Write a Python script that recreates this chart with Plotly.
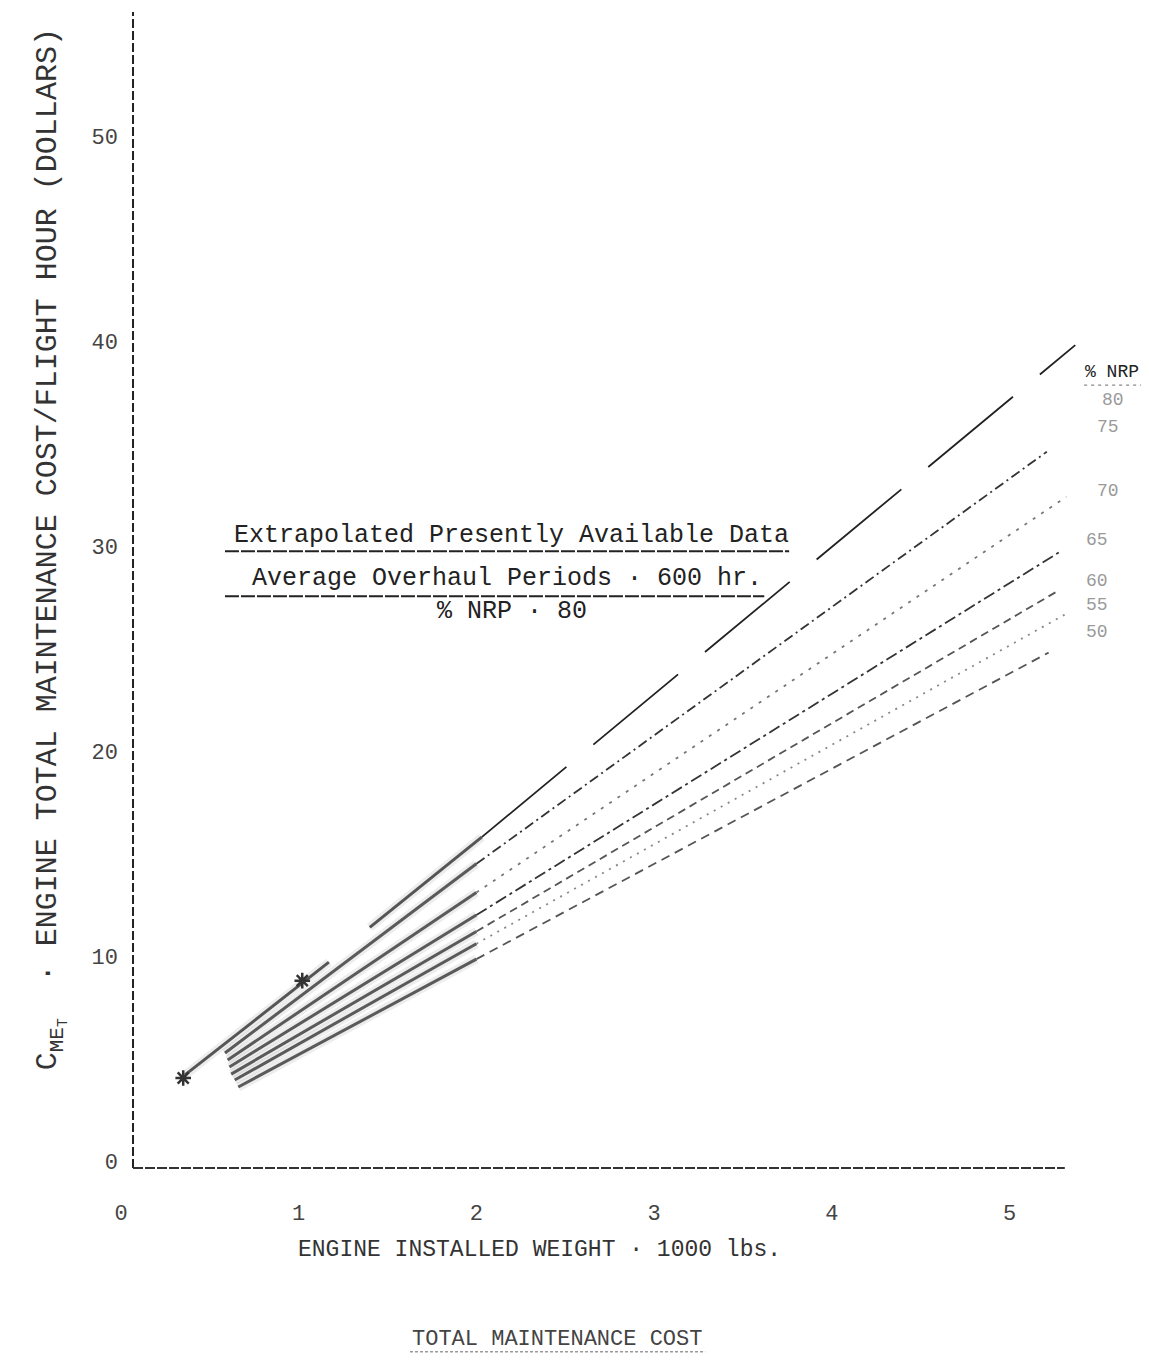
import plotly.graph_objects as go

# ---------------- data ----------------
nrp_labels = ["80", "75", "70", "65", "60", "55", "50"]
x_start = [0.36, 0.585, 0.60, 0.61, 0.62, 0.64, 0.66]
y_start = [4.2, 5.27, 4.93, 4.59, 4.24, 3.95, 3.61]
x_solid_end = [2.03, 2.00, 2.00, 2.00, 2.00, 2.00, 2.00]
y_solid_end = [15.8, 14.5, 13.1, 12.0, 11.2, 10.6, 9.85]
x_end = [5.37, 5.21, 5.32, 5.28, 5.28, 5.32, 5.22]
y_end = [39.8, 34.6, 32.4, 29.7, 27.85, 26.7, 24.8]

# top (80 %) curve solid pieces (there is a break in it)
top_solid_x = [0.36, 1.17, None, 1.40, 2.03]
top_solid_y = [4.2, 9.7, None, 11.4, 15.8]

# plotted data points (asterisks)
pts_x = [0.35, 1.02]
pts_y = [4.05, 8.8]

label_x = [5.51, 5.48, 5.48, 5.42, 5.42, 5.42, 5.42]
label_y = [37.1, 35.8, 32.7, 30.3, 28.3, 27.1, 25.8]

x_ticks = [0, 1, 2, 3, 4, 5]
y_ticks = [0, 10, 20, 30, 40, 50]

# ---------------- styling ----------------
ext_dash = ["110px,35px", "10px,4px,2px,4px", "3px,7px", "12px,4px,3px,4px",
            "8px,5px", "2px,6px", "9px,6px"]
ext_color = ["#222", "#333", "#777", "#333", "#555", "#888", "#555"]
MONO = "Liberation Mono"

fig = go.Figure()

# blurred solid (data range) portions
for i in range(1, len(nrp_labels)):
    fig.add_trace(go.Scatter(x=[x_start[i], x_solid_end[i]], y=[y_start[i], y_solid_end[i]],
                             mode="lines", line=dict(color="rgba(0,0,0,0.07)", width=9),
                             hoverinfo="skip", showlegend=False))
    fig.add_trace(go.Scatter(x=[x_start[i], x_solid_end[i]], y=[y_start[i], y_solid_end[i]],
                             mode="lines", line=dict(color="#5a5a5a", width=3),
                             hoverinfo="skip", showlegend=False))

fig.add_trace(go.Scatter(x=top_solid_x, y=top_solid_y, mode="lines",
                         line=dict(color="rgba(0,0,0,0.07)", width=9),
                         hoverinfo="skip", showlegend=False))
fig.add_trace(go.Scatter(x=top_solid_x, y=top_solid_y, mode="lines",
                         line=dict(color="#555", width=3),
                         hoverinfo="skip", showlegend=False))

# extrapolated (dashed) portions
for i in range(len(nrp_labels)):
    fig.add_trace(go.Scatter(x=[x_solid_end[i], x_end[i]], y=[y_solid_end[i], y_end[i]],
                             mode="lines", line=dict(color=ext_color[i], width=1.8, dash=ext_dash[i]),
                             name=nrp_labels[i] + " % NRP", showlegend=False))

# data points
fig.add_trace(go.Scatter(x=pts_x, y=pts_y, mode="markers",
                         marker=dict(symbol="asterisk-open", size=13, color="#333",
                                     line=dict(color="#333", width=2.5)),
                         showlegend=False))

# curve labels
for lx, ly, t in zip(label_x, label_y, nrp_labels):
    fig.add_annotation(x=lx, y=ly, text=t, showarrow=False, xanchor="left",
                       font=dict(family=MONO, size=18, color="#9a9a9a"))
fig.add_annotation(xref="paper", x=0.984, y=38.5, text="% NRP", showarrow=False,
                   xanchor="right", borderpad=0,
                   font=dict(family=MONO, size=18, color="#222"))
fig.add_shape(type="line", x0=5.42, x1=5.76, y0=37.85, y1=37.85,
              line=dict(color="#888", width=1.2, dash="3px,4px"))

# text block
box = [("Extrapolated Presently Available Data", 2.20, 30.5),
       ("Average Overhaul Periods · 600 hr.", 2.17, 28.4),
       ("% NRP · 80", 2.20, 26.8)]
for t, bx, by in box:
    fig.add_annotation(x=bx, y=by, text=t, showarrow=False,
                       font=dict(family=MONO, size=25, color="#222"))
fig.add_shape(type="line", x0=0.585, x1=3.76, y0=29.75, y1=29.75,
              line=dict(color="#222", width=2, dash="14px,2px"))
fig.add_shape(type="line", x0=0.585, x1=3.62, y0=27.55, y1=27.55,
              line=dict(color="#222", width=2, dash="14px,2px"))

# axis lines (scan look)
fig.add_shape(type="line", xref="x domain", yref="y domain", x0=0.0116, x1=0.0116, y0=0, y1=1,
              line=dict(color="#222", width=2, dash="9px,3px"))
fig.add_shape(type="line", xref="x domain", yref="y domain", x0=0.0116, x1=0.911, y0=0, y1=0,
              line=dict(color="#333", width=2, dash="10px,2px"))

# axis titles
fig.add_annotation(xref="paper", yref="paper", x=-0.089, y=0.535, textangle=-90,
                   text="C<sub>ME<sub>T</sub></sub>  · ENGINE TOTAL MAINTENANCE COST/FLIGHT HOUR (DOLLARS)",
                   showarrow=False, font=dict(family=MONO, size=30, color="#333"))
fig.add_annotation(xref="paper", yref="paper", x=0.404, y=-0.084,
                   text="ENGINE INSTALLED WEIGHT · 1000 lbs.", showarrow=False,
                   font=dict(family=MONO, size=23, color="#333"))
fig.add_annotation(xref="paper", yref="paper", x=0.421, y=-0.161,
                   text="TOTAL MAINTENANCE COST", showarrow=False,
                   font=dict(family=MONO, size=22, color="#444"))
fig.add_shape(type="line", xref="paper", yref="paper", x0=0.279, x1=0.564, y0=-0.159, y1=-0.159,
              line=dict(color="#999", width=1.5, dash="3px,2px"))

fig.update_xaxes(range=[0, 5.83], tickvals=x_ticks, ticks="", showgrid=False, zeroline=False,
                 showline=False, ticklabelstandoff=29,
                 tickfont=dict(family=MONO, size=22, color="#444"))
fig.update_yaxes(range=[-0.34, 56.05], tickvals=y_ticks, ticks="", showgrid=False, zeroline=False,
                 showline=False, ticklabelstandoff=2,
                 tickfont=dict(family=MONO, size=22, color="#444"))

fig.update_layout(width=1149, height=1360, margin=dict(l=113, r=0, t=4, b=200),
                  paper_bgcolor="white", plot_bgcolor="white", showlegend=False)

fig.write_html("out.html")
